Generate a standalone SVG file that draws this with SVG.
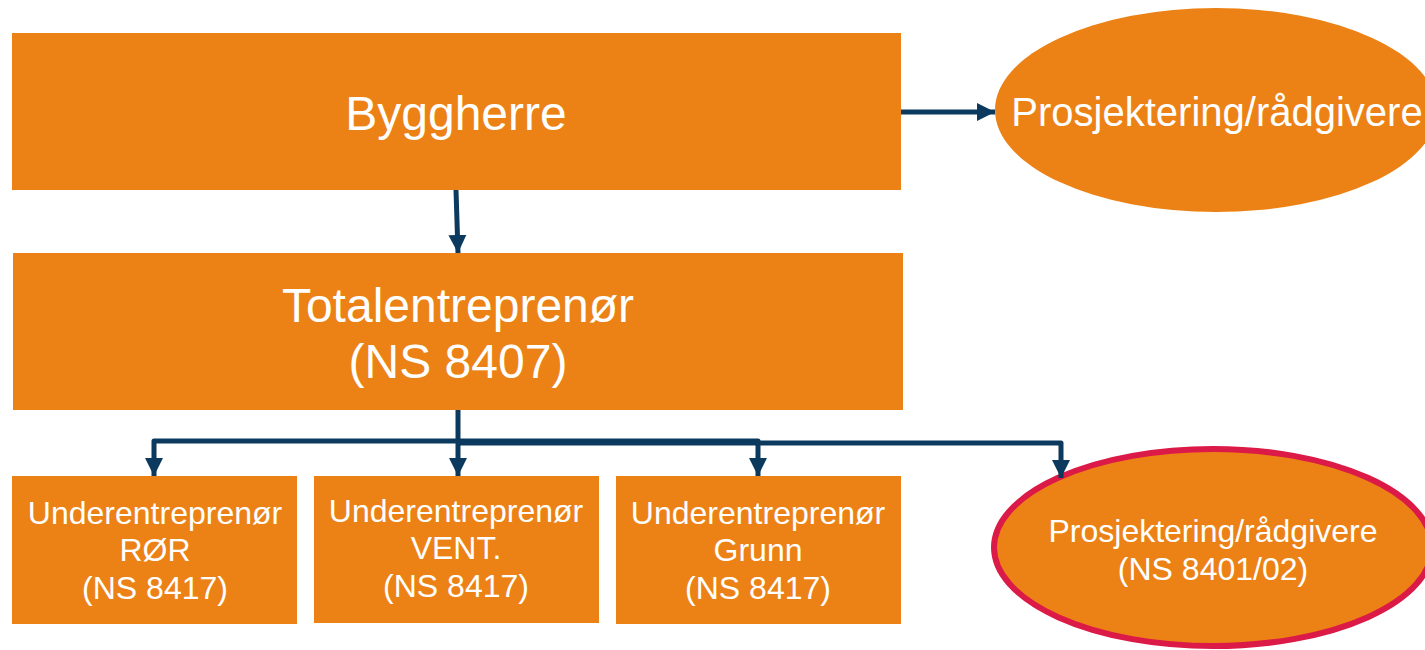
<svg xmlns="http://www.w3.org/2000/svg" width="1425" height="650" viewBox="0 0 1425 650">
<defs>
<style>
.box{fill:#EC8216;}
.t{fill:#ffffff;font-family:"Liberation Sans",Arial,sans-serif;text-anchor:middle;}
.big{font-size:48px;}
.mid{font-size:40px;}
.sm{font-size:32px;}
.c{fill:none;stroke:#0B3A5E;stroke-width:5;stroke-linejoin:round;}
</style>
<marker id="ah" markerUnits="userSpaceOnUse" markerWidth="20" markerHeight="20" viewBox="0 0 20 20" refX="18" refY="10" orient="auto">
<path d="M0,1 L18,10 L0,19 Z" fill="#0B3A5E"/>
</marker>
</defs>
<rect width="1425" height="650" fill="#ffffff"/>
<g id="byggherre">
<rect class="box" x="12" y="33" width="889" height="157"/>
<text class="t big" x="456" y="130">Byggherre</text>
</g>
<g id="prosjektering-top">
<ellipse class="box" cx="1216" cy="110" rx="221" ry="102"/>
<text class="t mid" x="1217" y="126">Prosjektering/rådgivere</text>
</g>
<g id="totalentreprenor">
<rect class="box" x="13" y="253" width="890" height="157"/>
<text class="t big" x="458" y="322">Totalentreprenør</text>
<text class="t big" x="458" y="378">(NS 8407)</text>
</g>
<g id="ue-ror">
<rect class="box" x="12" y="476" width="285" height="148"/>
<text class="t sm" x="155" y="524">Underentreprenør</text>
<text class="t sm" x="155" y="561">RØR</text>
<text class="t sm" x="155" y="599">(NS 8417)</text>
</g>
<g id="ue-vent">
<rect class="box" x="314" y="476" width="285" height="147"/>
<text class="t sm" x="456" y="522">Underentreprenør</text>
<text class="t sm" x="456" y="559">VENT.</text>
<text class="t sm" x="456" y="597">(NS 8417)</text>
</g>
<g id="ue-grunn">
<rect class="box" x="616" y="476" width="285" height="148"/>
<text class="t sm" x="758" y="524">Underentreprenør</text>
<text class="t sm" x="758" y="561">Grunn</text>
<text class="t sm" x="758" y="599">(NS 8417)</text>
</g>
<g id="prosjektering-bottom">
<ellipse class="box" cx="1213" cy="547.5" rx="219" ry="98.5" stroke="#DC1A47" stroke-width="6"/>
<text class="t sm" x="1213" y="542">Prosjektering/rådgivere</text>
<text class="t sm" x="1213" y="580">(NS 8401/02)</text>
</g>
<g id="connectors">
<path class="c" d="M901,112 L995,112" marker-end="url(#ah)"/>
<path class="c" d="M456,190 L458,253" marker-end="url(#ah)"/>
<path class="c" d="M458,410 L458,476" marker-end="url(#ah)"/>
<path class="c" d="M458,441 L154,441 L154,476" marker-end="url(#ah)"/>
<path class="c" d="M458,441 L758,441 L758,476" marker-end="url(#ah)"/>
<path class="c" d="M458,443 L1061,443 L1061,478" marker-end="url(#ah)"/>
</g>
</svg>
